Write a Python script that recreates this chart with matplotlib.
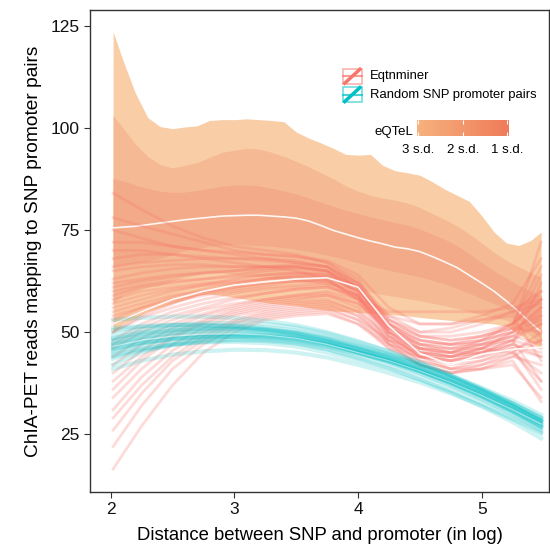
import numpy as np
import matplotlib.pyplot as plt
from matplotlib.colors import LinearSegmentedColormap
from matplotlib.patches import Rectangle
from matplotlib.lines import Line2D

plt.rcParams['font.family'] = ['Liberation Sans', 'DejaVu Sans']

# eQTeL mean and s.d. bands
band_x = [2.02, 2.1, 2.2, 2.3, 2.4, 2.5, 2.6, 2.7, 2.8, 2.9, 3.0, 3.1, 3.2, 3.3, 3.4, 3.5,
          3.6, 3.7, 3.8, 3.9, 4.0, 4.1, 4.2, 4.3, 4.4, 4.5, 4.6, 4.7, 4.8, 4.9, 5.0, 5.1,
          5.2, 5.3, 5.4, 5.48]
eqtel_mean = [75.5, 75.7, 75.9, 76.3, 76.7, 77.1, 77.5, 77.8, 78.1, 78.4, 78.5, 78.6, 78.6, 78.4,
              78.2, 77.9, 77.2, 76.1, 74.9, 74.0, 73.1, 72.3, 71.6, 70.8, 70.4, 69.7, 68.5, 67.2,
              65.8, 63.9, 62.0, 60.0, 57.6, 55.0, 52.2, 50.0]
sd3_hi = [123.5, 116.5, 108.5, 102.5, 100.3, 99.8, 100.2, 100.5, 101.8, 102, 102, 102.2, 102,
          101.8, 101.5, 99, 97.5, 96.3, 95, 93.5, 93.3, 93.5, 90.8, 89.5, 89, 88.4, 86.8, 85,
          83.5, 82, 78.5, 74.5, 71.8, 71.2, 72.5, 74.5]
sd2_hi = [103, 100, 96, 93, 91, 90.2, 90.8, 91.5, 92.8, 94, 94.5, 95, 94.8, 94, 93, 91.8, 90.5,
          89, 87.5, 85.8, 84.5, 83.5, 82.8, 82.3, 81.6, 80.5, 79, 77.6, 76, 74, 71.8, 69.5,
          67.5, 66, 64.5, 63.5]
sd1_hi = [87.6, 87, 86, 85.2, 84.5, 84.2, 84.3, 84.7, 85.2, 85.7, 86, 86, 85.8, 85.2, 84.6, 83.8,
          82.8, 81.8, 80.8, 79.8, 79, 78.2, 77.5, 76.8, 76.2, 75.2, 74, 72.7, 71.2, 69.2, 67,
          65, 63.2, 61.5, 60, 59]
sd1_lo = [66, 66.5, 67, 67.5, 68, 69, 70, 70.5, 71, 71.3, 71.5, 71.3, 71.2, 71, 70.7, 70.3,
          69.8, 69.2, 68.5, 67.8, 67, 66.2, 65.5, 64.8, 64.2, 63.5, 62.7, 61.8, 60.7, 59.5,
          58.2, 57, 55.8, 53, 50.5, 48.5]
sd2_lo = [57, 59, 60, 61, 61.5, 62.5, 63.5, 64, 64.5, 64.5, 64, 63.8, 63.5, 63.2, 63, 62.6,
          62.2, 61.8, 61.3, 60.8, 60.3, 59.8, 59.2, 58.7, 58.2, 57.7, 57.1, 56.5, 55.8, 55,
          54.2, 53.5, 53, 51, 49, 47]
sd3_lo = [50, 52, 53.5, 55, 56, 57, 58, 59, 59.3, 59, 58.5, 58, 57.5, 57, 56.8, 56.5, 56,
          55.5, 55.2, 55, 54.8, 54.6, 54.4, 54.2, 54, 53.6, 53.3, 53, 52.7, 52.5, 52.3, 52,
          51.5, 49.5, 47.5, 46]

# resampled curves
knots = [2.02, 2.25, 2.5, 2.75, 3.0, 3.25, 3.5, 3.75, 4.0, 4.25, 4.5, 4.75, 5.0, 5.25, 5.48]

eqtn_lines = [
    [84, 80, 76, 73, 71, 70, 69, 67, 62, 54, 50, 50, 52, 55, 60],
    [78, 76, 74, 72, 70, 69, 68.5, 67, 63, 52, 46, 45, 48, 52, 58],
    [72, 72, 71, 70, 69, 68, 67, 66, 62, 50, 45, 44, 46, 50, 64],
    [68, 69, 69, 68.5, 68, 67.5, 67, 66, 61, 49, 44, 43, 45, 48, 52],
    [65, 66, 66.5, 66.5, 66, 66, 66, 65, 60, 51, 47, 46, 47, 49, 55],
    [62, 63, 64, 64.5, 65, 65.5, 66, 65, 59, 48, 43, 41, 43, 46, 48],
    [60, 61.5, 62.5, 63, 63.5, 64, 64.5, 64, 60, 52, 48, 47, 48, 50, 53],
    [57, 59, 60.5, 61.5, 62, 63, 64, 64, 61, 53, 50, 51, 53, 55, 57],
    [55, 57, 59, 60, 61, 62, 62.5, 63, 58, 47, 42, 40, 42, 44, 42],
    [52, 55, 57.5, 59, 60, 61, 61.5, 62, 59, 49, 44, 42, 43, 45, 40],
    [50, 53.5, 56, 58, 59.5, 60.5, 61, 61.5, 58, 50, 46, 45, 47, 49, 47],
    [48, 52, 55, 57, 58.5, 59.5, 60.5, 61, 59, 51, 45, 43, 44, 46, 36],
    [46, 50, 53, 55.5, 57, 58, 59, 60, 58, 52, 47, 45, 45, 46, 44],
    [44, 48.5, 52, 54.5, 56.5, 58, 59, 59.5, 57, 50, 44, 41, 41, 42, 34],
    [42, 47, 51, 54, 56, 57.5, 58.5, 59, 56, 48, 43, 41, 42, 45, 50],
    [40, 45.5, 50, 53, 55.5, 57, 58, 59, 57, 51, 48, 47, 47, 48, 38],
    [38, 44, 49, 52.5, 55, 56.5, 57.5, 58, 55, 47, 42, 40, 41, 44, 48],
    [36, 43, 48.5, 52, 54.5, 56, 57, 57.5, 55, 49, 46, 45, 46, 48, 54],
    [34, 41, 47, 51, 54, 55.5, 56.5, 57, 54, 47, 44, 43, 44, 47, 62],
    [31, 39, 45.5, 50, 53, 55, 56, 56.5, 54, 48, 45, 44, 45, 47, 45],
    [29, 37, 44, 49, 52.5, 54.5, 55.5, 56, 53, 46, 42, 40, 41, 43, 33],
    [26, 35, 43, 48, 52, 54, 55, 55.5, 53, 48, 46, 46, 48, 52, 66],
    [22, 32, 41, 47, 51, 53.5, 54.5, 55, 52, 46, 44, 44, 46, 50, 56],
    [16.5, 27, 37, 45, 50, 53, 54, 54.5, 52, 47, 45, 45, 47, 51, 72],
    [70, 70, 69, 68, 67, 66, 65, 63, 58, 55, 55, 55, 55, 56, 58],
    [75, 73, 71, 70, 69.5, 69, 68.5, 67.5, 64, 56, 52, 52, 54, 57, 68],
    [58, 60, 61, 62, 62.5, 63, 63.5, 63.5, 60, 54, 52, 52, 53, 54, 43],
    [54, 56, 58, 59.5, 60.5, 61.5, 62.5, 62.5, 59, 50, 47, 47, 49, 52, 58],
    [47, 51, 54, 56, 58, 59.5, 60.5, 61, 58.5, 51, 47, 46, 46, 45, 38],
    [63, 64.5, 65.5, 66, 66, 66, 66, 65, 61, 53, 49, 48, 49, 51, 50],
    [66, 67, 67.5, 68, 68, 68, 67.5, 66, 61, 52, 48, 47, 48, 50, 56],
    [61, 62.5, 63.5, 64.5, 65, 66, 66.5, 66, 62, 53, 49, 48, 49, 51, 54],
    [59, 61, 62, 63, 64, 65, 65.5, 65, 61, 51, 46, 44, 45, 47, 44],
    [56, 58, 60, 61.5, 63, 64, 64.5, 64.5, 61, 50, 45, 44, 46, 49, 52],
    [53, 56, 58.5, 60.5, 62, 63, 63.5, 63.5, 60, 52, 49, 49, 50, 52, 60],
    [50, 54, 57, 59.5, 61, 62, 62.5, 62.5, 59, 49, 44, 43, 45, 48, 46],
]
eqtn_mean = [52, 55, 58, 60, 61.5, 62.3, 63, 63.3, 61, 51.5, 44.8, 42, 44.6, 45.8, 46.3]

random_lines = [
    [46.5, 48, 49, 49.5, 49.6, 49.3, 48.5, 47, 45, 43, 40.5, 37.7, 34.5, 31, 27.5],
    [48.5, 50, 51, 51.5, 51.6, 51.2, 50.4, 48.9, 46.8, 44.7, 42.2, 39.3, 36, 32.5, 29],
    [44.5, 46, 47, 47.5, 47.6, 47.3, 46.5, 45, 43, 41, 38.5, 35.7, 32.5, 29, 25.5],
    [42, 45, 47, 48.3, 49, 49, 48.4, 47.1, 45.2, 43.2, 40.8, 38, 34.8, 31.3, 27.8],
    [51, 51.5, 51.8, 51.8, 51.5, 50.8, 49.8, 48.2, 46, 43.7, 41, 38, 34.7, 31, 27.3],
    [49.5, 50.8, 51.7, 52.2, 52.3, 52, 51.2, 49.7, 47.6, 45.3, 42.6, 39.6, 36.2, 32.5, 28.8],
    [47.5, 49, 50, 50.6, 50.8, 50.5, 49.8, 48.4, 46.5, 44.3, 41.8, 38.9, 35.6, 32, 28.4],
    [45.5, 47.2, 48.4, 49, 49.2, 49, 48.3, 46.9, 45, 42.9, 40.4, 37.6, 34.4, 30.8, 27],
    [43.5, 45.5, 46.8, 47.6, 48, 47.8, 47.2, 45.9, 44, 42, 39.6, 36.8, 33.6, 30.1, 26.5],
    [48, 49.5, 50.4, 50.8, 50.8, 50.3, 49.4, 47.8, 45.7, 43.4, 40.8, 37.8, 34.4, 30.6, 26.8],
    [46, 47.3, 48.2, 48.7, 48.9, 48.7, 48.1, 46.8, 45, 43.1, 40.8, 38.2, 35.2, 31.9, 28.5],
    [53, 53.5, 53.8, 53.8, 53.5, 52.8, 51.7, 50, 47.8, 45.3, 42.5, 39.3, 35.8, 32, 28],
    [41, 43, 44.5, 45.3, 45.7, 45.6, 45, 43.8, 42, 40, 37.7, 35, 32, 28.7, 25.2],
    [47, 48.7, 49.8, 50.4, 50.5, 50, 49, 47.3, 45, 42.6, 39.9, 36.9, 33.5, 29.8, 26],
    [45, 46.8, 48, 48.8, 49.2, 49.2, 48.7, 47.5, 45.8, 43.8, 41.5, 38.9, 35.9, 32.6, 29.2],
    [50.5, 51.3, 51.7, 51.7, 51.3, 50.6, 49.5, 47.8, 45.6, 43.2, 40.5, 37.5, 34.2, 30.6, 26.9],
    [44, 45.8, 47, 47.8, 48.2, 48.1, 47.6, 46.4, 44.7, 42.8, 40.5, 37.9, 34.9, 31.6, 28.2],
    [48.5, 49.8, 50.6, 51, 51.1, 50.8, 50, 48.6, 46.6, 44.4, 41.8, 38.9, 35.6, 32, 28.2],
    [46, 47.5, 48.4, 48.8, 48.8, 48.3, 47.4, 45.8, 43.6, 41.2, 38.4, 35.3, 31.8, 28, 24],
    [47, 48.3, 49.2, 49.7, 49.8, 49.6, 49, 47.8, 46, 44.1, 41.9, 39.3, 36.4, 33.2, 29.8],
]
random_mean = [46.5, 48, 49, 49.5, 49.6, 49.3, 48.5, 47, 45, 43, 40.5, 37.7, 34.5, 31, 27.5]

salmon = '#F8766D'
teal = '#00BFC4'

fig = plt.figure(figsize=(5.5, 5.51), dpi=100)
ax = fig.add_axes([0.1636, 0.1071, 0.8346, 0.8748])

ax.fill_between(band_x, sd3_lo, sd3_hi, color='#F9CDA5', lw=0)
ax.fill_between(band_x, sd2_lo, sd2_hi, color='#F5BA94', lw=0)
ax.fill_between(band_x, sd1_lo, sd1_hi, color='#F2AA88', lw=0)
ax.plot(band_x, eqtel_mean, color='white', lw=1.2, alpha=0.9)

for ys in eqtn_lines:
    ax.plot(knots, ys, color=salmon, alpha=0.26, lw=2)
ax.plot(knots, eqtn_mean, color='white', lw=1.2, alpha=0.9)

for ys in random_lines:
    ax.plot(knots, ys, color=teal, alpha=0.19, lw=3)
ax.plot(knots, random_mean, color='white', lw=0.8, alpha=0.5)

ax.set_xlim(1.833, 5.544)
ax.set_ylim(10.88, 128.84)
ax.set_xticks([2, 3, 4, 5])
ax.set_yticks([25, 50, 75, 100, 125])
ax.tick_params(labelsize=12.5, length=4, width=0.8, color='#333333', labelcolor='#111111')
for s in ax.spines.values():
    s.set_color('#333333')
    s.set_linewidth(1.0)
ax.set_xlabel('Distance between SNP and promoter (in log)', fontsize=13.3, labelpad=7)
ax.set_ylabel('ChIA-PET reads mapping to SNP promoter pairs', fontsize=13.8, labelpad=6)

# legend for the two line groups
for i, (lab, col) in enumerate([('Eqtnminer', salmon), ('Random SNP promoter pairs', teal)]):
    y0 = 0.862 - i * 0.038
    ax.add_patch(Rectangle((0.551, y0 - 0.015), 0.041, 0.031, transform=ax.transAxes,
                           facecolor='white', edgecolor=col, alpha=0.55, lw=1.2))
    ax.add_line(Line2D([0.551, 0.592], [y0, y0], transform=ax.transAxes, color=col, lw=1.5, alpha=0.7))
    ax.add_line(Line2D([0.555, 0.588], [y0 - 0.014, y0 + 0.015], transform=ax.transAxes,
                       color=col, lw=2.5))
    ax.text(0.61, y0, lab, transform=ax.transAxes, fontsize=9.4, va='center', ha='left')

# eQTeL colour bar
cmap = LinearSegmentedColormap.from_list('eqtel', ['#F7B27E', '#EF7B5A'])
cax = fig.add_axes([0.758, 0.753, 0.167, 0.030])
cax.imshow(np.linspace(0, 1, 200)[None, :], extent=[3.03, 0.97, 0, 1], aspect='auto', cmap=cmap)
cax.set_xlim(3.03, 0.97)
cax.set_xticks([3, 2, 1])
cax.set_xticklabels(['3 s.d.', '2 s.d.', '1 s.d.'])
cax.set_yticks([])
cax.tick_params(axis='x', direction='in', color='white', length=3, top=True, labelsize=9.5, pad=6)
for s in cax.spines.values():
    s.set_visible(False)
fig.text(0.752, 0.760, 'eQTeL', fontsize=9.5, ha='right', va='center')

fig.savefig('out.png', dpi=100)
